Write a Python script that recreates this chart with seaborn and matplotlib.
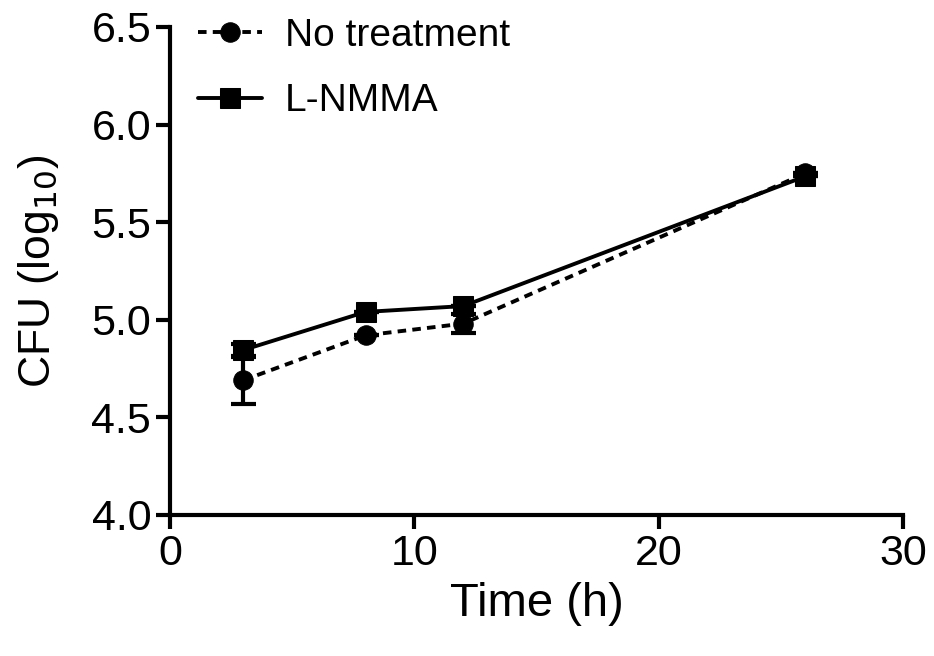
import pandas as pd
import matplotlib
matplotlib.use("Agg")
import matplotlib.pyplot as plt
import seaborn as sns

# values
time_h = [3, 8, 12, 26]
no_treatment = [4.69, 4.92, 4.98, 5.75]
no_treatment_err = [0.12, 0.0, 0.05, 0.0]
lnmma = [4.845, 5.04, 5.07, 5.735]
lnmma_err = [0.03, 0.0, 0.0, 0.0]
groups = ["No treatment", "L-NMMA"]

sns.set_style("ticks")
plt.rcParams['font.family'] = ['Liberation Sans', 'DejaVu Sans']
plt.rcParams['text.color'] = 'black'
plt.rcParams['axes.labelcolor'] = 'black'
plt.rcParams['xtick.color'] = 'black'
plt.rcParams['ytick.color'] = 'black'

df = pd.DataFrame({
    'Time': time_h * 2,
    'CFU': no_treatment + lnmma,
    'err': no_treatment_err + lnmma_err,
    'Group': [groups[0]] * 4 + [groups[1]] * 4,
})

fig = plt.figure(figsize=(9.34, 6.56), dpi=100)
ax = fig.add_axes([0.182, 0.215, 0.785, 0.744])

styles = {groups[0]: ('o', (0, (2.2, 1.6))), groups[1]: ('s', '-')}
for g in groups:
    sub = df[df['Group'] == g]
    ax.errorbar(sub['Time'], sub['CFU'], yerr=sub['err'], fmt='none',
                ecolor='black', elinewidth=3, capsize=9, capthick=3, zorder=2)

for g in groups:
    sub = df[df['Group'] == g]
    m, ls = styles[g]
    sns.lineplot(data=sub, x='Time', y='CFU', ax=ax, color='black',
                 marker=m, markersize=14, linewidth=2.8, linestyle=ls,
                 markeredgecolor='black', label=g, zorder=3)

ax.set_xlim(0, 30)
ax.set_ylim(4.0, 6.5)
ax.set_xticks([0, 10, 20, 30])
ax.set_yticks([4.0, 4.5, 5.0, 5.5, 6.0, 6.5])
ax.set_yticklabels(['4.0', '4.5', '5.0', '5.5', '6.0', '6.5'])
ax.set_xlabel('Time (h)', fontsize=34, labelpad=6)
ax.set_ylabel('CFU (log$_{10}$)', fontsize=32, labelpad=22)
ax.tick_params(axis='both', labelsize=31, width=3, length=10, color='black')
for s in ['left', 'bottom']:
    ax.spines[s].set_linewidth(3)
    ax.spines[s].set_color('black')
sns.despine(ax=ax)

leg = ax.legend(loc='upper left', frameon=False, fontsize=28,
                bbox_to_anchor=(-0.01, 1.09), handlelength=1.65,
                handletextpad=0.6, labelspacing=0.75, markerscale=1.0)

fig.savefig('out.png', dpi=100)
